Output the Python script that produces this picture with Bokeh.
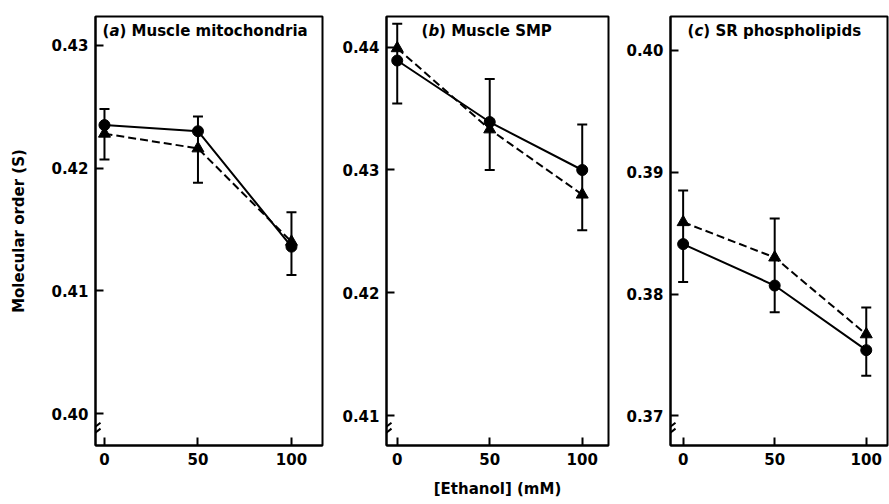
from bokeh.plotting import figure
from bokeh.layouts import row
from bokeh.models import Range1d, FixedTicker, PrintfTickFormatter, Label, Arrow
from bokeh.embed import file_html
from bokeh.resources import INLINE

# ---------------- data ----------------
ethanol = [0, 50, 100]
x_ticks = [0, 50, 100]

a_circle = [0.4235, 0.4230, 0.4136]
a_triangle = [0.4228, 0.4216, 0.4140]
a_bar_top = [0.4248, 0.4242, 0.4164]
a_bar_bottom = [0.4207, 0.4188, 0.4113]
a_yticks = [0.40, 0.41, 0.42, 0.43]

b_circle = [0.4389, 0.4339, 0.4300]
b_triangle = [0.4399, 0.4333, 0.4280]
b_bar_top = [0.4419, 0.4374, 0.4337]
b_bar_bottom = [0.4354, 0.4300, 0.4251]
b_yticks = [0.41, 0.42, 0.43, 0.44]

c_circle = [0.3841, 0.3807, 0.3754]
c_triangle = [0.3859, 0.3830, 0.3767]
c_bar_top = [0.3885, 0.3862, 0.3789]
c_bar_bottom = [0.3810, 0.3785, 0.3733]
c_yticks = [0.37, 0.38, 0.39, 0.40]

titles = [("a", "Muscle mitochondria"), ("b", "Muscle SMP"), ("c", "SR phospholipids")]

FONT = "DejaVu Sans"
FSIZE = "15px"
FRAME_H = 432
TOP = 16
BOTTOM = 52


def panel(letter, name, circ, tri, top, bot, yticks, xr, yr, frame_w,
          mb_left, mb_right, title_dx, paren_w, letter_w, xlabel=None, ylabel=None):
    width = mb_left + frame_w + mb_right
    p = figure(width=width, height=TOP + FRAME_H + BOTTOM, output_backend="svg",
               toolbar_location=None, x_range=Range1d(*xr), y_range=Range1d(*yr),
               min_border_left=mb_left, min_border_right=mb_right,
               min_border_top=TOP, min_border_bottom=BOTTOM)
    p.xgrid.visible = False
    p.ygrid.visible = False
    p.outline_line_color = "black"
    p.outline_line_width = 2
    p.background_fill_color = "white"
    p.border_fill_color = "white"

    for ax in (p.xaxis[0], p.yaxis[0]):
        ax.axis_line_width = 2
        ax.axis_line_color = "black"
        ax.major_tick_in = 8
        ax.major_tick_out = 0
        ax.major_tick_line_width = 2
        ax.minor_tick_line_color = None
        ax.major_label_text_font = FONT
        ax.major_label_text_font_size = FSIZE
        ax.major_label_text_font_style = "bold"
        ax.major_label_text_color = "black"
        ax.axis_label_text_font = FONT
        ax.axis_label_text_font_size = FSIZE
        ax.axis_label_text_font_style = "bold"
        ax.axis_label_text_color = "black"
    p.xaxis.ticker = FixedTicker(ticks=x_ticks)
    p.yaxis.ticker = FixedTicker(ticks=yticks)
    p.yaxis.formatter = PrintfTickFormatter(format="%.2f")
    p.xaxis.major_label_standoff = 7
    p.yaxis.major_label_standoff = 7
    if xlabel:
        p.xaxis.axis_label = xlabel
        p.xaxis.axis_label_standoff = 12
    if ylabel:
        p.yaxis.axis_label = ylabel
        p.yaxis.axis_label_standoff = 20

    # error bars
    p.segment(ethanol, bot, ethanol, top, line_color="black", line_width=2)
    p.scatter(ethanol, top, marker="dash", size=10, line_color="black", line_width=2)
    p.scatter(ethanol, bot, marker="dash", size=10, line_color="black", line_width=2)

    # series
    p.line(ethanol, tri, line_color="black", line_width=2, line_dash="8 4")
    p.line(ethanol, circ, line_color="black", line_width=2)
    p.scatter(ethanol, tri, marker="triangle", size=12, fill_color="black", line_color="black")
    p.scatter(ethanol, circ, marker="circle", size=11, fill_color="black", line_color="black")

    # panel title inside frame
    sx = (xr[1] - xr[0]) / frame_w
    sy = (yr[1] - yr[0]) / FRAME_H
    tx = xr[0] + title_dx * sx
    ty = yr[1] - 15 * sy
    common = dict(x=tx, y=ty, text_font=FONT, text_font_size=FSIZE,
                  text_color="black", text_baseline="middle", text_align="left")
    p.add_layout(Label(text="(", text_font_style="bold", **common))
    p.add_layout(Label(text=letter, x_offset=paren_w, text_font_style="bold italic", **common))
    p.add_layout(Label(text=") " + name, x_offset=paren_w + letter_w,
                       text_font_style="bold", **common))

    # axis break marks
    for dy in (13, 19):
        yb = yr[0] + dy * sy
        p.add_layout(Arrow(end=None, x_start=xr[0] - 5 * sx, y_start=yb - 4 * sy,
                           x_end=xr[0] + 5 * sx, y_end=yb + 4 * sy,
                           line_color="black", line_width=2))
    return p


pa = panel("a", titles[0][1], a_circle, a_triangle, a_bar_top, a_bar_bottom, a_yticks,
           (-4.8, 116.6), (0.39741, 0.43234), 227, 95, 4, 7, 6.9, 10.1,
           ylabel="Molecular order (S)")
pb = panel("b", titles[1][1], b_circle, b_triangle, b_bar_top, b_bar_bottom, b_yticks,
           (-5.8, 114.2), (0.40760, 0.44248), 222, 60, 4, 35, 6.9, 10.7,
           xlabel="[Ethanol] (mM)")
pc = panel("c", titles[2][1], c_circle, c_triangle, c_bar_top, c_bar_bottom, c_yticks,
           (-6.9, 111.6), (0.36758, 0.40277), 217, 58, 2, 17, 6.9, 8.9)

layout = row(pa, pb, pc, spacing=0)
open("out.html", "w").write(file_html(layout, INLINE))
